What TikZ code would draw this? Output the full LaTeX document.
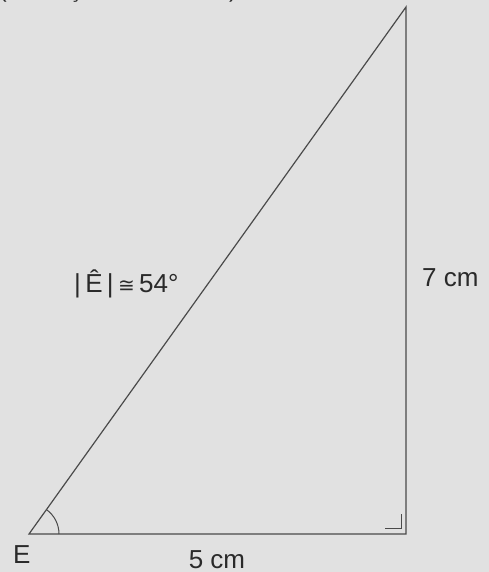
\documentclass[tikz,border=0pt]{standalone}
\usepackage{fontspec}
\setmainfont{Liberation Sans}
\newfontfamily\symfont{DejaVu Sans}
\definecolor{bgcol}{HTML}{E1E1E1}
\definecolor{linecol}{HTML}{4A4A4A}
\definecolor{txtcol}{HTML}{2A2A2A}
\begin{document}
\begin{tikzpicture}[x=1pt,y=1pt,
  edge/.style={draw=linecol,line width=1.2pt},
  lbl/.style={inner sep=0pt,text=txtcol,font=\fontsize{26}{30}\selectfont}]
\fill[bgcol] (0,0) rectangle (489,572);
\useasboundingbox (0,0) rectangle (489,572);
\begin{scope}
\clip (0,0) rectangle (489,572);
\node[lbl,anchor=base west,font=\fontsize{23}{27}\selectfont] (cap) at (-1,574) {(Ilustração sem escala).};
\end{scope}
\coordinate (E) at (29,38);
\coordinate (R) at (406,38);
\coordinate (T) at (406,565);
\draw[edge,line join=miter] (E) -- (R) -- (T) -- cycle;
\draw[edge,line width=1pt] ([shift={(0:30)}]E) arc[start angle=0,end angle=54.4,radius=30];
\coordinate (m1) at (385,43);
\coordinate (m2) at (401,43);
\coordinate (m3) at (401,58);
\draw[edge,line width=1pt] (m1) -- (m2) -- (m3);
\node[lbl,anchor=base west] (lE) at (13,9) {E};
\node[lbl,anchor=base] (l5) at (217,4) {5 cm};
\node[lbl,anchor=base west] (l7) at (422,285) {7 cm};
\node[lbl,anchor=base west] (lang) at (74,279) {|\,Ê\,|\,{\symfont\fontsize{20}{24}\selectfont ≅}\,54°};
\end{tikzpicture}
\end{document}
